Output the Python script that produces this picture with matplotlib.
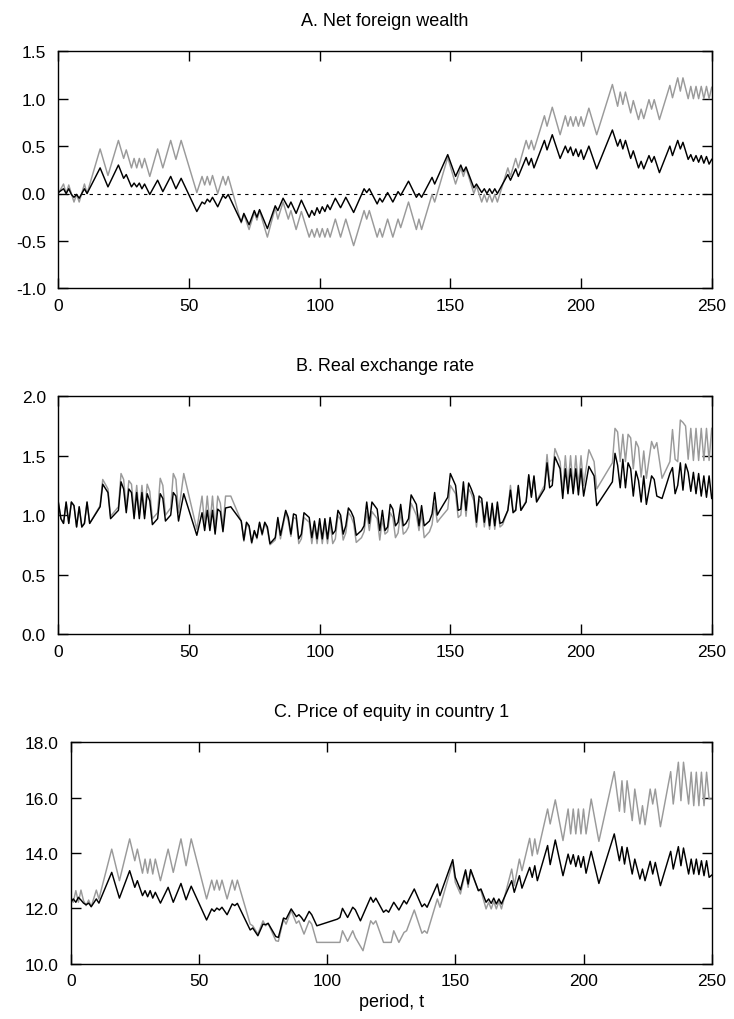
import matplotlib
matplotlib.use("Agg")
import matplotlib.pyplot as plt
from matplotlib.ticker import FuncFormatter

plt.rcParams['font.family'] = ['Liberation Sans', 'DejaVu Sans']

# ---------------- data (turning points of each path) ----------------
# Panel A: net foreign wealth
nfw_black_t = [0, 2, 3, 4, 5, 6, 7, 8, 10, 11, 16, 19, 23, 25, 26, 28, 29, 30, 31, 32, 33, 35, 38, 40, 43, 45, 47,
               53, 55, 56, 57, 58, 59, 61, 63, 64, 65, 70, 71, 73, 75, 76, 77, 80, 83, 84, 86, 88, 89, 91, 93, 96,
               97, 98, 99, 100, 101, 102, 103, 104, 106, 108, 110, 113, 117, 118, 119, 122, 123, 124, 126, 128,
               130, 131, 134, 137, 138, 139, 143, 144, 149, 152, 154, 155, 156, 159, 160, 162, 163, 164, 165, 166,
               167, 168, 172, 173, 175, 176, 179, 180, 181, 182, 186, 187, 189, 192, 194, 195, 196, 197, 198, 199,
               200, 201, 203, 206, 212, 214, 215, 216, 217, 219, 220, 222, 223, 224, 226, 227, 228, 230, 234, 235,
               237, 238, 239, 241, 242, 243, 244, 245, 246, 247, 248, 249, 250]
nfw_black = [0.01, 0.05, 0.0, 0.05, -0.01, -0.04, -0.01, -0.05, 0.05, 0.0, 0.27, 0.07, 0.30, 0.16, 0.20, 0.07, 0.11,
             0.07, 0.11, 0.05, 0.10, -0.01, 0.14, 0.02, 0.18, 0.05, 0.16,
             -0.19, -0.09, -0.11, -0.06, -0.09, -0.04, -0.14, -0.02, -0.05, -0.01, -0.30, -0.21, -0.33, -0.18,
             -0.25, -0.17, -0.37, -0.13, -0.18, -0.05, -0.15, -0.09, -0.21, -0.07, -0.25,
             -0.18, -0.23, -0.15, -0.21, -0.14, -0.19, -0.12, -0.17, -0.05, -0.15, -0.04, -0.20, 0.05, 0.01, 0.05,
             -0.11, -0.05, -0.09, 0.01, -0.09,
             0.02, -0.02, 0.13, -0.04, 0.0, -0.04, 0.17, 0.10, 0.41, 0.18, 0.30, 0.23, 0.28, 0.06, 0.10, 0.01,
             0.05, 0.0, 0.05, 0.0,
             0.05, 0.0, 0.20, 0.14, 0.26, 0.18, 0.38, 0.30, 0.37, 0.27, 0.56, 0.46, 0.62, 0.37, 0.50, 0.43, 0.49,
             0.40, 0.47, 0.39,
             0.46, 0.36, 0.50, 0.26, 0.67, 0.50, 0.57, 0.47, 0.56, 0.37, 0.45, 0.27, 0.34, 0.26, 0.40, 0.33, 0.39,
             0.22, 0.50, 0.40,
             0.56, 0.47, 0.54, 0.36, 0.41, 0.34, 0.40, 0.33, 0.40, 0.32, 0.39, 0.31, 0.36]

nfw_grey_t = nfw_black_t
nfw_grey = [0.0, 0.10, 0.0, 0.09, 0.0, -0.09, -0.01, -0.09, 0.10, 0.0, 0.47, 0.19, 0.56, 0.37, 0.46, 0.27, 0.37,
            0.27, 0.37, 0.27, 0.37, 0.18, 0.47, 0.27, 0.56, 0.36, 0.56,
            0.01, 0.18, 0.09, 0.18, 0.09, 0.19, 0.0, 0.18, 0.09, 0.18, -0.31, -0.22, -0.38, -0.20, -0.28, -0.18,
            -0.46, -0.15, -0.27, -0.09, -0.27, -0.18, -0.38, -0.19, -0.46,
            -0.38, -0.46, -0.37, -0.46, -0.37, -0.46, -0.37, -0.46, -0.27, -0.46, -0.27, -0.55, -0.18, -0.27,
            -0.18, -0.46, -0.37, -0.46, -0.27, -0.46,
            -0.27, -0.36, -0.09, -0.38, -0.27, -0.38, -0.01, -0.09, 0.38, 0.10, 0.27, 0.18, 0.27, 0.0, 0.08,
            -0.09, -0.01, -0.09, -0.01, -0.09,
            -0.01, -0.09, 0.27, 0.18, 0.37, 0.27, 0.56, 0.47, 0.56, 0.46, 0.82, 0.71, 0.91, 0.62, 0.82, 0.71,
            0.81, 0.71, 0.81, 0.71,
            0.81, 0.71, 0.90, 0.62, 1.15, 0.92, 1.07, 0.94, 1.07, 0.85, 0.98, 0.78, 0.89, 0.79, 0.99, 0.89, 0.99,
            0.78, 1.14, 1.01,
            1.22, 1.08, 1.22, 1.00, 1.13, 1.00, 1.13, 1.00, 1.13, 1.00, 1.13, 1.00, 1.12]

# Panel B: real exchange rate
rer_black_t = [0, 1, 2, 3, 4, 5, 6, 7, 8, 9, 10, 11, 12, 16, 17, 19, 20, 23, 24, 25, 26, 27, 28, 29, 30, 31, 32,
               33, 34, 35, 36, 38, 39, 40, 41, 43, 44, 45, 46, 48, 53, 55, 56, 57, 58, 59, 60, 61, 62, 63, 64, 66,
               70, 71, 72, 73, 74, 75, 76, 77, 78, 79, 80, 81, 83, 84, 85, 87, 88, 89, 90, 91, 92, 93, 94, 95, 96,
               97, 98, 99, 100, 101, 102, 103, 104, 105, 106, 107, 108, 109, 110, 111, 112, 113, 114, 116, 117,
               118, 119, 120, 121, 122, 123, 124, 125, 126, 127, 128, 129, 130, 131, 132, 133, 134, 135, 137, 138,
               139, 140, 142, 143, 144, 145, 146, 149, 150, 152, 153, 154, 155, 156, 157, 158, 159, 160, 161, 162,
               163, 164, 165, 166, 167, 168, 169, 170, 172, 173, 174, 175, 176, 177, 179, 180, 181, 182, 183, 186,
               187, 188, 189, 190, 192, 193, 194, 195, 196, 197, 198, 199, 200, 201, 203, 205, 206, 212, 213, 214,
               215, 216, 217, 218, 219, 220, 221, 222, 223, 224, 225, 227, 228, 229, 231, 234, 235, 236, 237, 238,
               239, 240, 241, 242, 243, 244, 245, 246, 247, 248, 249, 250]
rer_black = [1.11, 0.97, 0.93, 1.11, 0.93, 1.11, 1.08, 0.90, 1.07, 0.90, 0.93, 1.11, 0.93, 1.07, 1.26, 1.19, 0.97,
             1.04, 1.28, 1.22, 1.02, 1.22, 1.19, 0.97, 1.19, 0.97, 1.19,
             0.97, 1.18, 1.12, 0.92, 0.97, 1.18, 1.14, 0.95, 1.00, 1.19, 1.16, 0.95, 1.18, 0.83, 1.02, 0.87, 1.04,
             0.87, 1.04, 0.84, 1.05, 1.03, 0.86, 1.06, 1.07,
             0.95, 0.79, 0.94, 0.91, 0.77, 0.87, 0.81, 0.94, 0.84, 0.94, 0.90, 0.76, 0.81, 0.98, 0.83, 1.04, 0.98,
             0.84, 1.01, 1.00, 0.80, 0.84, 1.02, 1.00, 0.98,
             0.81, 0.95, 0.80, 0.97, 0.80, 0.97, 0.80, 0.98, 0.84, 0.87, 1.04, 1.00, 0.84, 0.91, 1.06, 1.03, 0.98,
             0.83, 0.87, 0.91,
             1.11, 0.93, 1.11, 1.08, 1.05, 0.87, 1.04, 0.87, 0.90, 1.09, 1.05, 0.91, 0.94, 1.09, 0.91, 0.93, 0.97,
             1.17, 1.09, 0.91,
             1.08, 0.91, 0.95, 1.01, 1.19, 1.00, 1.04, 1.15, 1.35, 1.25, 1.04, 1.05, 1.28, 1.04, 1.27, 1.22, 1.16,
             0.94, 1.16, 1.14,
             0.94, 1.11, 0.91, 1.10, 0.91, 1.11, 0.93, 0.94, 1.04, 1.21, 1.02, 1.04, 1.25, 1.04, 1.11, 1.34, 1.15,
             1.33, 1.11, 1.22,
             1.44, 1.23, 1.25, 1.49, 1.39, 1.14, 1.39, 1.18, 1.39, 1.18, 1.39, 1.17, 1.39, 1.16, 1.41, 1.33, 1.08,
             1.28, 1.52, 1.42,
             1.23, 1.47, 1.23, 1.44, 1.39, 1.16, 1.37, 1.29, 1.11, 1.33, 1.09, 1.33, 1.30, 1.16, 1.14, 1.35, 1.40,
             1.18, 1.25, 1.44,
             1.21, 1.43, 1.36, 1.20, 1.36, 1.18, 1.35, 1.16, 1.33, 1.15, 1.33, 1.14]

rer_grey_t = rer_black_t
rer_grey = [1.11, 0.97, 0.93, 1.11, 0.93, 1.11, 1.08, 0.90, 1.07, 0.90, 0.93, 1.11, 0.93, 1.08, 1.30, 1.22, 0.99,
            1.07, 1.35, 1.30, 1.06, 1.29, 1.26, 1.02, 1.25, 1.00, 1.25,
            1.00, 1.26, 1.20, 0.97, 1.02, 1.31, 1.25, 1.00, 1.06, 1.35, 1.30, 1.02, 1.35, 0.88, 1.16, 0.92, 1.16,
            0.92, 1.16, 0.88, 1.16, 1.10, 0.90, 1.16, 1.16,
            0.95, 0.78, 0.92, 0.90, 0.76, 0.86, 0.80, 0.93, 0.83, 0.93, 0.88, 0.75, 0.79, 0.96, 0.80, 1.02, 0.95,
            0.82, 0.98, 0.97, 0.76, 0.80, 0.98, 0.96, 0.94,
            0.76, 0.92, 0.76, 0.93, 0.76, 0.93, 0.76, 0.94, 0.76, 0.80, 1.00, 0.96, 0.79, 0.85, 1.02, 0.99, 0.93,
            0.77, 0.81, 0.86,
            1.03, 0.87, 1.03, 1.00, 0.97, 0.79, 0.97, 0.84, 0.86, 1.02, 0.98, 0.81, 0.85, 1.03, 0.84, 0.86, 0.90,
            1.10, 1.00, 0.87,
            1.02, 0.81, 0.86, 0.92, 1.10, 0.94, 0.97, 1.05, 1.25, 1.18, 0.98, 1.00, 1.22, 0.99, 1.22, 1.18, 1.12,
            0.90, 1.13, 1.10,
            0.90, 1.07, 0.88, 1.07, 0.88, 1.07, 0.90, 0.92, 1.04, 1.25, 1.04, 1.04, 1.24, 1.04, 1.12, 1.33, 1.16,
            1.32, 1.12, 1.25,
            1.51, 1.28, 1.30, 1.56, 1.45, 1.19, 1.50, 1.24, 1.50, 1.22, 1.50, 1.24, 1.50, 1.25, 1.55, 1.45, 1.22,
            1.44, 1.73, 1.70,
            1.45, 1.68, 1.45, 1.68, 1.65, 1.39, 1.62, 1.57, 1.32, 1.54, 1.31, 1.62, 1.56, 1.61, 1.31, 1.45, 1.72,
            1.47, 1.45, 1.80,
            1.78, 1.75, 1.47, 1.73, 1.46, 1.73, 1.46, 1.73, 1.46, 1.73, 1.46, 1.73]

# Panel C: price of equity in country 1
peq_black_t = [0, 1, 2, 3, 4, 5, 6, 7, 8, 10, 11, 16, 19, 23, 25, 26, 28, 29, 30, 31, 32, 33, 35, 38, 40, 43, 45,
               47, 53, 55, 56, 57, 58, 59, 61, 63, 64, 65, 70, 71, 73, 75, 76, 77, 80, 81, 83, 84, 86, 88, 89, 90,
               91, 93, 94, 96, 98, 100, 102, 104, 105, 106, 108, 110, 111, 113, 117, 118, 119, 122, 123, 124, 126,
               128, 130, 131, 134, 137, 138, 139, 143, 144, 149, 150, 152, 154, 155, 156, 159, 160, 162, 163, 164,
               165, 166, 167, 168, 172, 173, 175, 176, 179, 180, 181, 182, 186, 187, 189, 192, 194, 195, 196, 197,
               198, 199, 200, 201, 203, 206, 212, 214, 215, 216, 217, 219, 220, 222, 223, 224, 226, 227, 228, 230,
               234, 235, 237, 238, 239, 241, 242, 243, 244, 245, 246, 247, 248, 249, 250]
peq_black = [12.22, 12.34, 12.22, 12.40, 12.30, 12.19, 12.13, 12.19, 12.06, 12.34, 12.19, 13.30, 12.37, 13.36,
             12.76, 13.00, 12.46, 12.64, 12.42, 12.64, 12.37, 12.58, 12.19, 12.76, 12.22, 12.90, 12.31,
             12.80, 11.58, 11.98, 11.89, 12.01, 11.94, 12.04, 11.77, 12.16, 12.10, 12.18, 11.22, 11.29, 11.01,
             11.43, 11.41, 11.46, 10.98, 10.95, 11.65, 11.61, 11.98, 11.70, 11.77, 11.67,
             11.53, 11.89, 11.77, 11.37, 11.43, 11.49, 11.55, 11.61, 11.67, 12.00, 11.67, 12.04, 11.95, 11.55,
             12.40, 12.22, 12.37, 11.86, 11.94, 11.86, 12.22,
             11.94, 12.28, 12.16, 12.70, 12.06, 12.16, 12.04, 12.88, 12.46, 13.76, 13.12, 12.67, 13.39, 12.88,
             13.40, 12.64, 12.70, 12.22, 12.34, 12.18,
             12.37, 12.16, 12.34, 12.16, 13.00, 12.58, 13.18, 12.73, 13.48, 13.12, 13.54, 13.00, 14.27, 13.58,
             14.47, 13.18, 13.96, 13.60, 13.94, 13.51,
             13.90, 13.48, 13.87, 13.27, 14.06, 12.90, 14.69, 13.72, 14.23, 13.60, 14.20, 13.24, 13.78, 13.06,
             13.42, 13.00, 13.70, 13.24, 13.66, 12.82,
             14.06, 13.42, 14.23, 13.54, 14.18, 13.24, 13.78, 13.24, 13.78, 13.22, 13.72, 13.18, 13.72, 13.12, 13.20]

peq_grey_t = [0, 1, 2, 3, 4, 5, 6, 7, 8, 10, 11, 16, 19, 23, 25, 26, 28, 29, 30, 31, 32, 33, 35, 38, 40, 43, 45,
              47, 53, 55, 56, 57, 58, 59, 61, 63, 64, 65, 70, 71, 73, 75, 76, 77, 80, 81, 83, 84, 86, 88, 89, 91,
              93, 94, 96, 105, 106, 108, 110, 111, 114, 117, 118, 119, 122, 125, 126, 128, 130, 131, 134, 137, 138,
              139, 143, 144, 149, 150, 152, 154, 155, 156, 159, 160, 162, 163, 164, 165, 166, 167, 168, 172, 173,
              175, 176, 179, 180, 181, 182, 186, 187, 189, 192, 194, 195, 196, 197, 198, 199, 200, 201, 203, 206,
              212, 214, 215, 216, 217, 219, 220, 222, 223, 224, 226, 227, 228, 230, 234, 235, 237, 238, 239, 241,
              242, 243, 244, 245, 246, 247, 248, 249, 250]
peq_grey = [12.40, 12.22, 12.64, 12.22, 12.66, 12.28, 12.10, 12.30, 12.06, 12.66, 12.34, 14.14, 13.00, 14.51,
            13.72, 14.14, 13.27, 13.78, 13.27, 13.78, 13.24, 13.78, 13.00, 14.14, 13.30, 14.51, 13.54,
            14.51, 12.34, 13.02, 12.66, 13.02, 12.66, 13.02, 12.34, 13.02, 12.66, 13.02, 11.43, 11.37, 11.07,
            11.55, 11.37, 11.46, 10.83, 10.81, 11.61, 11.43, 11.92, 11.46, 11.55, 11.07,
            11.55, 11.43, 10.77, 10.77, 11.19, 10.81, 11.19, 10.95, 10.47, 11.55, 11.43, 11.55, 10.77, 10.77,
            11.19, 10.77, 11.13, 11.19, 11.94, 11.10, 11.19,
            11.10, 12.34, 12.04, 13.66, 12.94, 12.52, 13.33, 12.76, 13.36, 12.64, 12.64, 11.98, 12.22, 11.98,
            12.25, 11.98, 12.25, 11.98, 13.42, 12.82,
            13.78, 13.36, 14.53, 13.90, 14.51, 13.96, 15.59, 15.05, 15.92, 14.45, 15.59, 14.69, 15.59, 14.69,
            15.59, 14.69, 15.59, 14.69, 15.95, 14.42,
            16.94, 15.51, 16.61, 15.47, 16.61, 15.17, 16.31, 15.05, 15.71, 15.02, 16.31, 15.77, 16.31, 14.95,
            16.94, 15.77, 17.28, 15.89, 17.28, 15.77,
            16.92, 15.71, 16.92, 15.71, 16.92, 15.71, 16.92, 15.95, 15.95]

x_ticks = [0, 50, 100, 150, 200, 250]

# ---------------- figure ----------------
W, H = 734, 1020
fig = plt.figure(figsize=(W / 100, H / 100), dpi=100)


def px_axes(left, top, right, bottom):
    return fig.add_axes([left / W, 1 - bottom / H, (right - left) / W, (bottom - top) / H])


axA = px_axes(58.3, 52.3, 711.7, 289.3)
axB = px_axes(58.3, 397.3, 711.7, 634.9)
axC = px_axes(70.7, 743.3, 711.7, 964.7)

GREY = '#9a9a9a'
LW = 1.05
TITLE_FS = 13
TICK_FS = 12.5

axA.axhline(0, color='black', lw=0.8, ls=(0, (3, 4)), zorder=1)
axA.plot(nfw_grey_t, nfw_grey, color=GREY, lw=LW, zorder=2)
axA.plot(nfw_black_t, nfw_black, color='black', lw=LW, zorder=3)
axA.set_ylim(-1.0, 1.5)
axA.set_yticks([-1.0, -0.5, 0.0, 0.5, 1.0, 1.5])
axA.set_title('A. Net foreign wealth', fontsize=TITLE_FS, pad=19)

axB.plot(rer_grey_t, rer_grey, color=GREY, lw=LW, zorder=2)
axB.plot(rer_black_t, rer_black, color='black', lw=LW, zorder=3)
axB.set_ylim(0.0, 2.0)
axB.set_yticks([0.0, 0.5, 1.0, 1.5, 2.0])
axB.set_title('B. Real exchange rate', fontsize=TITLE_FS, pad=19)

axC.plot(peq_grey_t, peq_grey, color=GREY, lw=LW, zorder=2)
axC.plot(peq_black_t, peq_black, color='black', lw=LW, zorder=3)
axC.set_ylim(10.0, 18.0)
axC.set_yticks([10.0, 12.0, 14.0, 16.0, 18.0])
axC.set_title('C. Price of equity in country 1', fontsize=TITLE_FS, pad=19)
axC.set_xlabel('period, t', fontsize=TITLE_FS, labelpad=3)

hyphen_fmt = FuncFormatter(lambda v, pos: f'{v:.1f}'.replace('\u2212', '-'))
for ax in (axA, axB, axC):
    ax.set_xlim(0, 250)
    ax.set_xticks(x_ticks)
    ax.yaxis.set_major_formatter(hyphen_fmt)
    ax.tick_params(direction='in', length=7, width=1, top=True, right=True, labelsize=TICK_FS)
    ax.tick_params(axis='x', pad=7)
    ax.tick_params(axis='y', pad=9)
    for s in ax.spines.values():
        s.set_linewidth(1.0)

fig.savefig('out.png', dpi=100)
